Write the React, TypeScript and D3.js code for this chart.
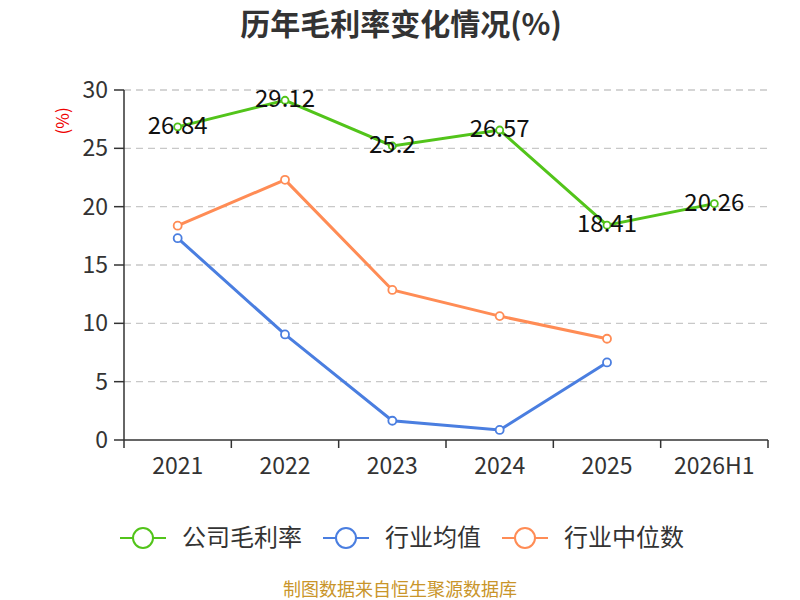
import React from 'react';
import { scaleBand, scaleLinear, line } from 'd3';

const categories = ['2021', '2022', '2023', '2024', '2025', '2026H1'];
const companyMargin: (number | null)[] = [26.84, 29.12, 25.2, 26.57, 18.41, 20.26];
const industryMean: (number | null)[] = [17.3, 9.05, 1.65, 0.86, 6.65, null];
const industryMedian: (number | null)[] = [18.37, 22.3, 12.86, 10.62, 8.68, null];
const yTicks = [0, 5, 10, 15, 20, 25, 30];

const seriesList = [
  { name: '公司毛利率', color: '#52c41a', values: companyMargin, r: 3.5, labels: true },
  { name: '行业均值', color: '#4a7ee0', values: industryMean, r: 4, labels: false },
  { name: '行业中位数', color: '#ff8c55', values: industryMedian, r: 4, labels: false },
];

const W = 800;
const H = 600;
const margin = { left: 124, right: 32, top: 90, bottom: 160 };
const font = '"Noto Sans CJK SC", "Noto Sans", sans-serif';

const App: React.FC = () => {
  const x = scaleBand().domain(categories).range([margin.left, W - margin.right]);
  const y = scaleLinear().domain([0, 30]).range([H - margin.bottom, margin.top]);
  const cx = (c: string) => x(c)! + x.bandwidth() / 2;

  const legendX = [120, 323, 502];

  return (
    <svg width={W} height={H} style={{ position: 'absolute', left: 0, top: 0, fontFamily: font }}>
      <rect width={W} height={H} fill="#fff" />
      <text x={401} y={35} textAnchor="middle" fontSize={30} fontWeight="bold" fill="#333">
        历年毛利率变化情况(%)
      </text>

      {yTicks.map(t => (
        <g key={t}>
          {t > 0 && (
            <line x1={margin.left} x2={W - margin.right} y1={y(t)} y2={y(t)}
              stroke="#c8c8c8" strokeDasharray="7,5" strokeWidth={1.3} />
          )}
          <line x1={margin.left - 10} x2={margin.left} y1={y(t)} y2={y(t)} stroke="#333" strokeWidth={1.5} />
          <text x={margin.left - 16} y={y(t)} dy="0.35em" textAnchor="end" fontSize={23} fill="#333">{t}</text>
        </g>
      ))}
      <text transform={`translate(69,${y(27.35)}) rotate(-90)`} textAnchor="middle" fontSize={17} fill="#e00">(%)</text>

      <line x1={margin.left} x2={margin.left} y1={y(30)} y2={y(0)} stroke="#333" strokeWidth={1.5} />
      <line x1={margin.left} x2={W - margin.right} y1={y(0)} y2={y(0)} stroke="#333" strokeWidth={1.5} />
      {[...categories.map(c => x(c)!), W - margin.right].map((px, i) => (
        <line key={i} x1={px} x2={px} y1={y(0)} y2={y(0) + 8} stroke="#333" strokeWidth={1.5} />
      ))}
      {categories.map(c => (
        <text key={c} x={cx(c)} y={y(0) + 26} dy="0.35em" textAnchor="middle" fontSize={23} fill="#333">{c}</text>
      ))}

      {seriesList.map(s => {
        const pts = categories
          .map((c, i) => ({ c, v: s.values[i] }))
          .filter(p => p.v !== null) as { c: string; v: number }[];
        const path = line<{ c: string; v: number }>().x(p => cx(p.c)).y(p => y(p.v))(pts)!;
        return (
          <g key={s.name}>
            <path d={path} fill="none" stroke={s.color} strokeWidth={3} />
            {pts.map(p => (
              <circle key={p.c} cx={cx(p.c)} cy={y(p.v)} r={s.r} fill="#fff" stroke={s.color} strokeWidth={1.8} />
            ))}
          </g>
        );
      })}
      {seriesList.filter(s => s.labels).map(s =>
        categories.map((c, i) => s.values[i] === null ? null : (
          <text key={s.name + c} x={cx(c)} y={y(s.values[i]!)} dy="0.3em" textAnchor="middle" fontSize={24} fill="#111">
            {s.values[i]}
          </text>
        ))
      )}

      {seriesList.map((s, i) => (
        <g key={s.name} transform={`translate(${legendX[i]},538)`}>
          <line x1={0} x2={46} y1={0} y2={0} stroke={s.color} strokeWidth={2} />
          <circle cx={23} cy={0} r={10} fill="#fff" stroke={s.color} strokeWidth={2} />
          <text x={62} y={0} dy="0.35em" fontSize={24} fill="#333">{s.name}</text>
        </g>
      ))}

      <text x={400} y={596} textAnchor="middle" fontSize={18} fill="#c9952a">制图数据来自恒生聚源数据库</text>
    </svg>
  );
};

export default App;
